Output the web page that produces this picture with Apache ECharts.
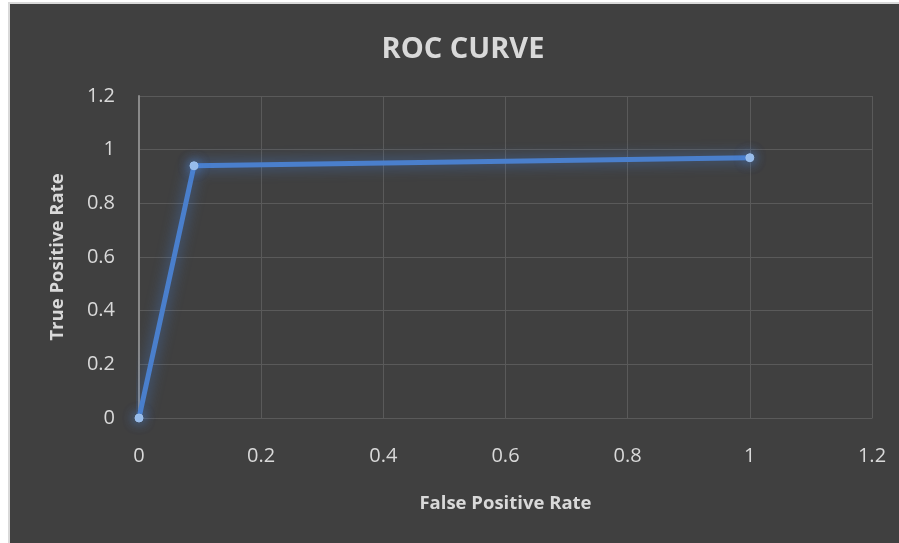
<!DOCTYPE html>
<html>
<head>
<meta charset="utf-8">
<script src="https://cdn.jsdelivr.net/npm/echarts@6/dist/echarts.min.js"></script>
<style>
html,body{margin:0;padding:0;background:#ffffff;width:899px;height:543px;overflow:hidden;}
#frame{position:absolute;left:8px;top:2px;width:891px;height:541px;background:#d9d9d9;}
#chart{position:absolute;left:10px;top:4px;width:889px;height:539px;}
</style>
</head>
<body>
<div id="frame"></div>
<div id="chart"></div>
<script>
const titleText = "ROC CURVE";
const xAxisName = "False Positive Rate";
const yAxisName = "True Positive Rate";
const fpr = [0, 0.09, 1];
const tpr = [0, 0.94, 0.97];

const points = fpr.map((x, i) => [x, tpr[i]]);
const chart = echarts.init(document.getElementById('chart'));
const textColor = '#d9d9d9';
const font = '"Open Sans", "Noto Sans", sans-serif';
chart.setOption({
  backgroundColor: '#404040',
  animation: false,
  title: {
    text: titleText,
    left: 448,
    textAlign: 'center',
    top: 26,
    textStyle: { color: textColor, fontSize: 29, fontWeight: 'bold', fontFamily: font }
  },
  grid: { left: 129, right: 27, top: 92, bottom: 125 },
  xAxis: {
    type: 'value', min: 0, max: 1.2, interval: 0.2,
    name: xAxisName, nameLocation: 'middle', nameGap: 76,
    nameTextStyle: { color: textColor, fontSize: 18.5, fontWeight: 'bold', fontFamily: font },
    axisLine: { show: true, lineStyle: { color: '#5a5a5a', width: 1 } },
    axisTick: { show: false },
    splitLine: { show: true, lineStyle: { color: '#5a5a5a', width: 1 } },
    axisLabel: { color: textColor, fontSize: 20, fontFamily: font, margin: 28 }
  },
  yAxis: {
    type: 'value', min: 0, max: 1.2, interval: 0.2,
    name: yAxisName, nameLocation: 'middle', nameGap: 72, nameRotate: 90,
    nameTextStyle: { color: textColor, fontSize: 18.5, fontWeight: 'bold', fontFamily: font },
    axisLine: { show: true, onZero: false, lineStyle: { color: '#8a8a8a', width: 2 } },
    axisTick: { show: false },
    splitLine: { show: true, lineStyle: { color: '#5a5a5a', width: 1 } },
    axisLabel: { color: textColor, fontSize: 20, fontFamily: font, margin: 24 }
  },
  series: [{
    type: 'line',
    data: points,
    symbol: 'circle',
    symbolSize: 8,
    itemStyle: { color: '#9dc0ec', borderColor: '#9dc0ec', shadowColor: 'rgba(80,140,230,0.9)', shadowBlur: 12 },
    lineStyle: { color: '#4a7fcc', width: 5, shadowColor: 'rgba(70,130,220,0.7)', shadowBlur: 14 }
  }]
});
</script>
</body>
</html>
